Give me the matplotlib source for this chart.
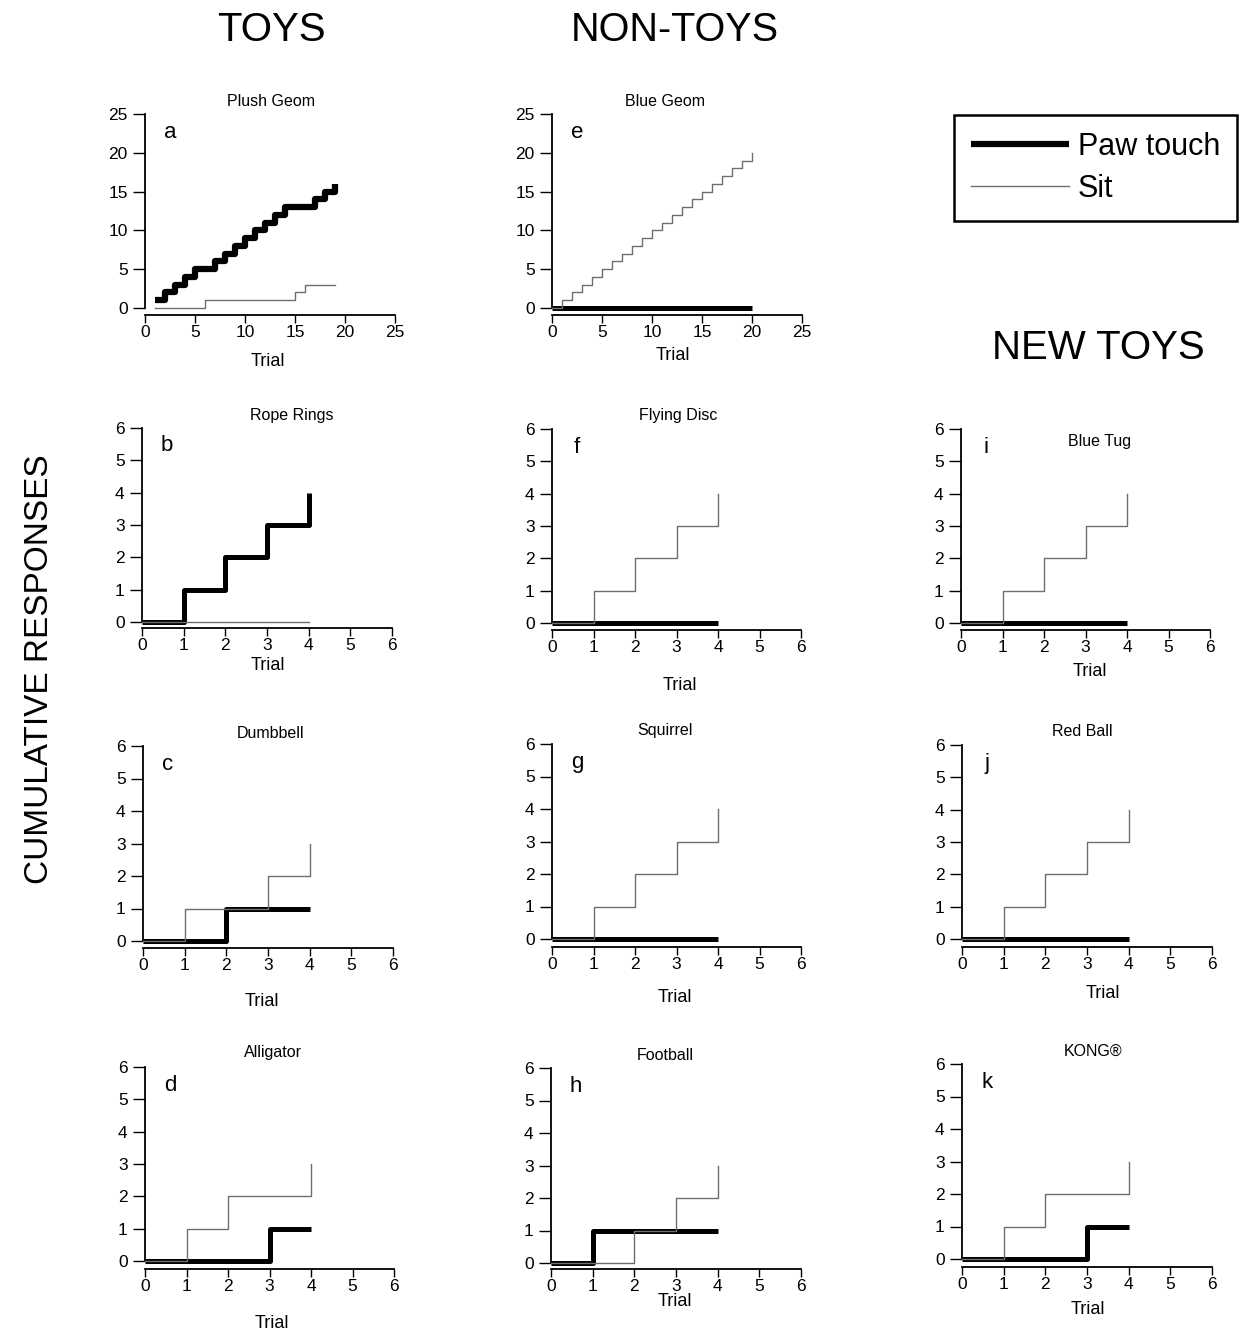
import matplotlib
matplotlib.use("Agg")
import matplotlib.pyplot as plt

W, H = 1249, 1334
plt.rcParams["font.family"] = ["Liberation Sans", "DejaVu Sans"]

# panel data: cumulative responses (step plots)
letters = ["a", "e", "b", "f", "i", "c", "g", "j", "d", "h", "k"]
titles = ["Plush Geom", "Blue Geom", "Rope Rings", "Flying Disc", "Blue Tug",
          "Dumbbell", "Squirrel", "Red Ball", "Alligator", "Football", "KONG®"]

paw_x = {
    "a": [1, 2, 3, 4, 5, 6, 7, 8, 9, 10, 11, 12, 13, 14, 15, 16, 17, 18, 19],
    "e": [0, 20],
    "b": [0, 1, 2, 3, 4],
    "f": [0, 4], "i": [0, 4], "g": [0, 4], "j": [0, 4],
    "c": [0, 2, 4],
    "d": [0, 3, 4],
    "h": [0, 1, 4],
    "k": [0, 3, 4],
}
paw_y = {
    "a": [1, 2, 3, 4, 5, 5, 6, 7, 8, 9, 10, 11, 12, 13, 13, 13, 14, 15, 16],
    "e": [0, 0],
    "b": [0, 1, 2, 3, 4],
    "f": [0, 0], "i": [0, 0], "g": [0, 0], "j": [0, 0],
    "c": [0, 1, 1],
    "d": [0, 1, 1],
    "h": [0, 1, 1],
    "k": [0, 1, 1],
}
sit_x = {
    "a": [1, 6, 15, 16, 19],
    "e": list(range(0, 21)),
    "b": [0, 4],
    "f": [0, 1, 2, 3, 4], "i": [0, 1, 2, 3, 4],
    "g": [0, 1, 2, 3, 4], "j": [0, 1, 2, 3, 4],
    "c": [0, 1, 3, 4],
    "d": [0, 1, 2, 4],
    "h": [0, 2, 3, 4],
    "k": [0, 1, 2, 4],
}
sit_y = {
    "a": [0, 1, 2, 3, 3],
    "e": list(range(0, 21)),
    "b": [0, 0],
    "f": [0, 1, 2, 3, 4], "i": [0, 1, 2, 3, 4],
    "g": [0, 1, 2, 3, 4], "j": [0, 1, 2, 3, 4],
    "c": [0, 1, 2, 3],
    "d": [0, 1, 2, 3],
    "h": [0, 1, 2, 3],
    "k": [0, 1, 2, 3],
}
axis_max = {"a": 25, "e": 25}  # others 6

# layout in pixels: left, right(xmax), top(ymax), y of value 0, x-axis line
boxes = {
    "a": (145, 395, 114, 308, 315),
    "e": (552, 802, 114, 308, 315),
    "b": (142, 392, 428, 622, 628),
    "f": (552, 801, 429, 623, 630),
    "i": (961, 1210, 429, 623, 630),
    "c": (143, 393, 746, 941, 948),
    "g": (552, 801, 744, 939, 947),
    "j": (962, 1212, 745, 939, 947),
    "d": (145, 394, 1067, 1261, 1269),
    "h": (551, 801, 1068, 1263, 1269),
    "k": (962, 1212, 1064, 1259, 1267),
}
# title centre (px) and "Trial" label centre (px)
title_pos = {"a": (271, 101), "e": (665, 101), "b": (292, 415), "f": (678, 416),
             "i": (1100, 441), "c": (270, 733), "g": (665, 731), "j": (1082, 732),
             "d": (273, 1053), "h": (665, 1055), "k": (1093, 1051)}
trial_pos = {"a": (268, 362), "e": (673, 355), "b": (268, 665), "f": (680, 685),
             "i": (1090, 672), "c": (262, 1002), "g": (675, 998), "j": (1103, 993),
             "d": (272, 1323), "h": (675, 1302), "k": (1088, 1310)}

fig = plt.figure(figsize=(W / 100, H / 100), dpi=100)

lines_for_legend = None
for key, title in zip(letters, titles):
    L, R, T, Y0, B = boxes[key]
    ymax = axis_max.get(key, 6)
    unit = (Y0 - T) / ymax
    off = (B - Y0) / unit
    ax = fig.add_axes([L / W, 1 - B / H, (R - L) / W, (B - T) / H])
    ax.set_xlim(0, ymax)
    ax.set_ylim(-off, ymax)
    lw_paw = 4.5 if key == "a" else 3.6
    p, = ax.step(paw_x[key], paw_y[key], where="post", color="black",
                 lw=lw_paw, clip_on=False, solid_capstyle="butt", zorder=3)
    s, = ax.step(sit_x[key], sit_y[key], where="post", color="#6e6e6e",
                 lw=1.0, clip_on=False, zorder=4)
    if lines_for_legend is None:
        lines_for_legend = (p, s)
    step = 5 if ymax == 25 else 1
    ticks = list(range(0, ymax + 1, step))
    ax.set_xticks(ticks)
    ax.set_yticks(ticks)
    for sp in ["top", "right"]:
        ax.spines[sp].set_visible(False)
    ax.spines["left"].set_bounds(0, ymax)
    ax.spines["bottom"].set_bounds(0, ymax)
    ax.spines["left"].set_linewidth(1.3)
    ax.spines["bottom"].set_linewidth(1.3)
    ax.tick_params(axis="y", length=8.5, width=1.0, pad=4, labelsize=12.5)
    ax.tick_params(axis="x", length=6, width=1.0, pad=1.5, labelsize=12.5)
    ax.patch.set_alpha(0)
    ax.text(0.1, 0.91, key, transform=ax.transAxes, ha="center", va="center",
            fontsize=16)
    tx, ty = title_pos[key]
    fig.text(tx / W, 1 - ty / H, title, ha="center", va="center", fontsize=11.5)
    lx, ly = trial_pos[key]
    fig.text(lx / W, 1 - ly / H, "Trial", ha="center", va="center", fontsize=13)

# column headings
fig.text(271 / W, 1 - 30 / H, "TOYS", ha="center", va="center", fontsize=29)
fig.text(675 / W, 1 - 30 / H, "NON-TOYS", ha="center", va="center", fontsize=28.5)
fig.text(1098 / W, 1 - 348 / H, "NEW TOYS", ha="center", va="center", fontsize=29)
fig.text(40 / W, 1 - 669 / H, "CUMULATIVE RESPONSES", ha="center", va="center",
         rotation=90, fontsize=24)

leg = fig.legend(lines_for_legend, ["Paw touch", "Sit"], loc="upper left",
                 bbox_to_anchor=(954 / W, 1 - 115 / H), borderaxespad=0,
                 fontsize=22, handlelength=3.2, handletextpad=0.3,
                 labelspacing=0.4, borderpad=0.55, fancybox=False,
                 framealpha=1, edgecolor="black")
leg.get_frame().set_linewidth(1.8)

fig.savefig("out.png", dpi=100)
